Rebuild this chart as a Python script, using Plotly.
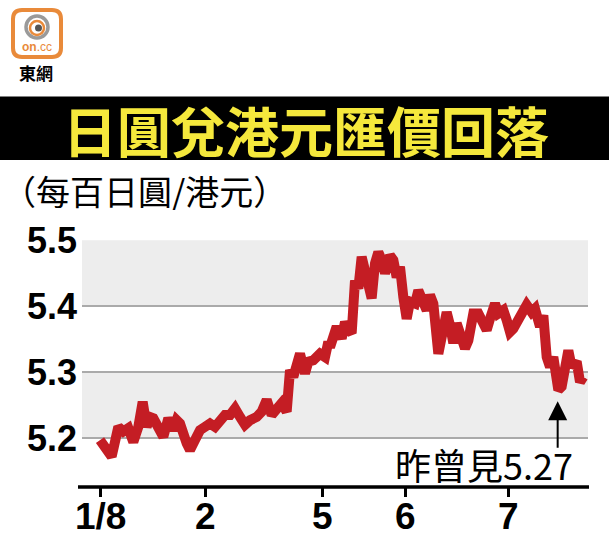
import plotly.graph_objects as go

# ---- data (trading-day position, rate HKD per 100 JPY) ----
day = [0.0, 1.5, 3.5, 5.5, 7.0, 8.5, 10.0, 11.5, 12.8, 14.0, 15.0, 16.0, 17.5, 19.0, 20.5,
       22.0, 23.0, 24.0, 26.0, 27.0, 28.5, 30.0, 31.5, 33.0, 34.5, 36.0, 37.5, 39.0, 40.5,
       42.0, 43.5, 45.0, 47.0, 48.5, 50.0, 51.5, 53.0, 54.5, 56.0, 57.0, 58.0, 60.0, 61.5,
       62.5, 64.0, 65.0, 66.0, 67.5, 68.5, 69.0, 71.0, 72.5, 73.5, 74.5, 75.5, 76.5, 77.5,
       78.5, 79.5, 80.5, 81.5, 82.5, 83.5, 84.5, 85.5, 87.0, 88.0, 89.0, 90.0, 91.0, 92.0,
       93.0, 94.5, 95.5, 97.0, 98.0, 99.0, 100.0, 101.5, 103.0, 104.0, 105.0, 106.0, 107.0,
       108.5, 109.5, 110.5, 112.0, 113.5, 114.5, 116.0, 117.0, 118.5, 119.5, 121.0, 122.0,
       123.0, 124.0, 125.5, 126.5, 128.0, 129.5, 130.5, 132.0, 133.0, 134.0, 135.0, 136.0,
       137.5, 138.5, 139.5, 140.5, 141.5, 143.0, 144.0, 145.0]
rate = [5.197, 5.184, 5.172, 5.217, 5.210, 5.215, 5.194, 5.217, 5.255, 5.217, 5.232, 5.230,
        5.217, 5.202, 5.230, 5.212, 5.227, 5.222, 5.192, 5.182, 5.197, 5.212, 5.217, 5.222,
        5.217, 5.227, 5.235, 5.235, 5.245, 5.232, 5.220, 5.227, 5.232, 5.240, 5.258, 5.235,
        5.247, 5.253, 5.240, 5.303, 5.293, 5.328, 5.298, 5.316, 5.318, 5.326, 5.328, 5.323,
        5.346, 5.338, 5.369, 5.351, 5.376, 5.364, 5.359, 5.439, 5.427, 5.475, 5.455, 5.434,
        5.412, 5.465, 5.482, 5.470, 5.450, 5.477, 5.470, 5.444, 5.460, 5.414, 5.381, 5.407,
        5.404, 5.424, 5.407, 5.394, 5.417, 5.404, 5.328, 5.364, 5.391, 5.371, 5.344, 5.374,
        5.353, 5.336, 5.348, 5.389, 5.389, 5.376, 5.364, 5.381, 5.404, 5.389, 5.394, 5.379,
        5.361, 5.366, 5.379, 5.386, 5.402, 5.391, 5.396, 5.369, 5.386, 5.323, 5.308, 5.323,
        5.273, 5.278, 5.321, 5.333, 5.308, 5.316, 5.285, 5.293]

x_tick_pos = [0.0, 31.5, 66.6, 91.5, 122.4]
x_tick_text = ["1/8", "2", "5", "6", "7"]
y_ticks = [5.2, 5.3, 5.4, 5.5]
y_tick_text = ["5.2", "5.3", "5.4", "5.5"]
grey_bands = [(5.4, 5.5), (5.2, 5.3)]

low_day = 137.3
low_value = 5.27
title = "日圓兌港元匯價回落"
subtitle = "（每百日圓/港元）"
note = "昨曾見5.27"

# ---- layout helpers (pixel -> paper) ----
W, H = 609, 540
L, R, T, B = 82, 588, 240, 487


def px(x):
    return (x - L) / (R - L)


def py(y):
    return (B - y) / (B - T)


RED = "#c41d24"
ORANGE = "#e98a3a"
BOLD = "Liberation Sans, Arial, sans-serif"
CJK = "Noto Sans CJK TC, Noto Sans CJK SC, sans-serif"

fig = go.Figure()
fig.add_trace(go.Scatter(x=day, y=rate, mode="lines",
                         line=dict(color=RED, width=10), hoverinfo="skip"))

shapes = []
for lo, hi in grey_bands:
    shapes.append(dict(type="rect", xref="paper", yref="y", x0=0, x1=1, y0=lo, y1=hi,
                       fillcolor="#ededed", line=dict(width=0), layer="below"))
# bottom axis line (extends slightly left of plot)
shapes.append(dict(type="line", xref="paper", yref="paper", x0=px(78), x1=px(589),
                   y0=0, y1=0, line=dict(color="black", width=3.5)))
# title bar
shapes.append(dict(type="rect", xref="paper", yref="paper", x0=px(0), x1=px(609),
                   y0=py(160), y1=py(96.5), fillcolor="black", line=dict(width=0)))


def rounded_rect(x0, y0, x1, y1, r):
    X0, X1, Y0, Y1 = px(x0), px(x1), py(y0), py(y1)
    rx = r / (R - L)
    ry = r / (B - T)
    return (f"M {X0+rx},{Y0} L {X1-rx},{Y0} Q {X1},{Y0} {X1},{Y0-ry} "
            f"L {X1},{Y1+ry} Q {X1},{Y1} {X1-rx},{Y1} L {X0+rx},{Y1} "
            f"Q {X0},{Y1} {X0},{Y1+ry} L {X0},{Y0-ry} Q {X0},{Y0} {X0+rx},{Y0} Z")


# logo
shapes.append(dict(type="path", xref="paper", yref="paper",
                   path=rounded_rect(13, 10, 61, 57, 9),
                   fillcolor="white", line=dict(color=ORANGE, width=4)))
shapes.append(dict(type="circle", xref="paper", yref="paper",
                   x0=px(26), x1=px(48), y0=py(38), y1=py(16),
                   line=dict(color="#9a9a9a", width=3.5)))
shapes.append(dict(type="circle", xref="paper", yref="paper",
                   x0=px(30), x1=px(44), y0=py(35), y1=py(21),
                   line=dict(color=ORANGE, width=2.5)))
shapes.append(dict(type="circle", xref="paper", yref="paper",
                   x0=px(35), x1=px(42), y0=py(31.5), y1=py(24.5),
                   fillcolor="#555555", line=dict(width=0)))

annotations = [
    dict(x=px(306), y=py(129), xref="paper", yref="paper", text=title, showarrow=False,
         font=dict(family=CJK, size=54, color="#f5e83c", weight="bold"),
         xanchor="center", yanchor="middle", height=60),
    dict(x=px(0), y=py(190), xref="paper", yref="paper", text=subtitle, showarrow=False,
         font=dict(family=CJK, size=34, color="black"), xanchor="left", yanchor="middle",
         height=40),
    dict(x=px(37), y=py(46.5), xref="paper", yref="paper", text="<b>on</b>.cc", showarrow=False,
         font=dict(family=BOLD, size=12, color=ORANGE), xanchor="center", yanchor="middle"),
    dict(x=px(36), y=py(72), xref="paper", yref="paper", text="東網", showarrow=False,
         font=dict(family=CJK, size=17, color="black", weight="bold"),
         xanchor="center", yanchor="middle"),
    # arrow to the low
    dict(x=low_day, y=low_value - 0.014, xref="x", yref="y", text="", showarrow=True,
         ax=0, ay=48, arrowhead=2, arrowsize=1.9, arrowwidth=2, arrowcolor="black"),
    dict(x=px(575), y=py(464), xref="paper", yref="paper", text=note, showarrow=False,
         font=dict(family=CJK, size=36, color="black"), xanchor="right", yanchor="middle",
         height=40),
]
# x tick labels, placed at the tick positions
for pos, lab in zip(x_tick_pos, x_tick_text):
    annotations.append(dict(x=pos, y=py(516), xref="x", yref="paper", text=lab,
                            showarrow=False, xanchor="center", yanchor="middle",
                            font=dict(family=BOLD, size=37, color="black", weight="bold"),
                            height=36))

fig.update_layout(
    width=W, height=H,
    margin=dict(l=L, r=W - R, t=T, b=H - B, autoexpand=False),
    paper_bgcolor="white", plot_bgcolor="white",
    showlegend=False,
    shapes=shapes, annotations=annotations,
    xaxis=dict(range=[(L - 100) * 0.3, (R - 100) * 0.3], tickvals=x_tick_pos,
               ticktext=x_tick_text, ticks="outside", ticklen=9, tickwidth=3,
               tickcolor="black", showgrid=False, zeroline=False, showline=False,
               showticklabels=False, fixedrange=True, automargin=False),
    yaxis=dict(range=[5.5 - (B - T) / 660, 5.5005], tickvals=y_ticks, ticktext=y_tick_text,
               showgrid=True, gridcolor="#aaaaaa", gridwidth=2, zeroline=False,
               showline=False, ticks="",
               tickfont=dict(family=BOLD, size=36, color="black", weight="bold"),
               ticklabelstandoff=4, fixedrange=True, automargin=False),
)

fig.write_html("out.html")
